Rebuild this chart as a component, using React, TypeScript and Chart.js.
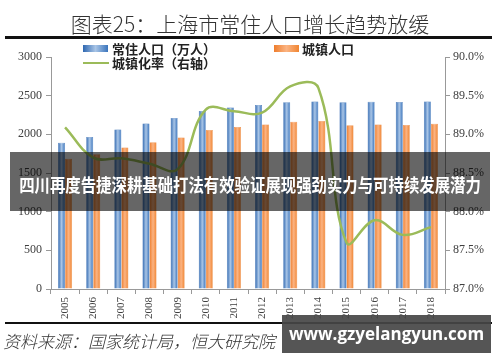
import React, { useEffect, useRef } from "react";
import { Chart, registerables } from "chart.js";

Chart.register(...registerables);

const years = ["2005","2006","2007","2008","2009","2010","2011","2012","2013","2014","2015","2016","2017","2018"];
const residentPop = [1890, 1964, 2064, 2141, 2210, 2302, 2347, 2380, 2415, 2426, 2415, 2420, 2418, 2424];
const urbanPop = [1683, 1741, 1829, 1898, 1958, 2056, 2096, 2126, 2164, 2173, 2116, 2127, 2121, 2136];
const urbanRate = [89.09, 88.70, 88.69, 88.62, 88.55, 89.32, 89.30, 89.28, 89.62, 89.60, 87.60, 87.89, 87.70, 87.80];
const leftTicks = [0, 500, 1000, 1500, 2000, 2500, 3000];
const rightTicks = [87.0, 87.5, 88.0, 88.5, 89.0, 89.5, 90.0];

const titleText = "图表25：上海市常住人口增长趋势放缓";
const legendBlue = "常住人口（万人）";
const legendOrange = "城镇人口";
const legendLine = "城镇化率（右轴）";
const sourceText = "资料来源：国家统计局，恒大研究院";
const bannerText = "四川再度告捷深耕基础打法有效验证展现强劲实力与可持续发展潜力";
const watermarkText = "www.gzyelangyun.com";

const CAT_PCT = 0.5;

function makeGradient(ctx: any, dsIndex: number, stops: string[], fallback: string) {
  const chart = ctx.chart;
  const area = chart.chartArea;
  if (!area || ctx.type !== "data") return fallback;
  const xs = chart.scales.x;
  const cat = (area.right - area.left) / years.length;
  const bw = (cat * CAT_PCT) / 2;
  const cx = xs.getPixelForValue(ctx.dataIndex) + (dsIndex === 0 ? -bw / 2 : bw / 2);
  const g = chart.ctx.createLinearGradient(cx - bw / 2, 0, cx + bw / 2, 0);
  g.addColorStop(0, stops[0]);
  g.addColorStop(0.5, stops[1]);
  g.addColorStop(1, stops[2]);
  return g;
}

export default function App() {
  const ref = useRef<HTMLCanvasElement | null>(null);
  useEffect(() => {
    if (!ref.current) return;
    const tickFont = { family: "'Liberation Serif', 'DejaVu Serif', serif", size: 12 };
    const chart = new Chart(ref.current, {
      type: "bar",
      data: {
        labels: years,
        datasets: [
          {
            type: "line",
            label: legendLine,
            data: urbanRate,
            yAxisID: "y1",
            borderColor: "#9BBB59",
            borderWidth: 2.5,
            pointRadius: 0,
            tension: 0.4,
            fill: false,
            order: 0,
          } as any,
          {
            label: legendBlue,
            data: residentPop,
            yAxisID: "y",
            backgroundColor: (c: any) => makeGradient(c, 0, ["#2E67B0", "#A9C5E6", "#3A74BC"], "#4F81BD"),
            borderColor: "#3A6FB3",
            borderWidth: 0.5,
            categoryPercentage: CAT_PCT,
            barPercentage: 1.0,
            order: 1,
          },
          {
            label: legendOrange,
            data: urbanPop,
            yAxisID: "y",
            backgroundColor: (c: any) => makeGradient(c, 1, ["#EE7D2C", "#FBB483", "#F08532"], "#F79646"),
            borderColor: "#E8843A",
            borderWidth: 0.5,
            categoryPercentage: CAT_PCT,
            barPercentage: 1.0,
            order: 1,
          },
        ],
      },
      options: {
        responsive: true,
        maintainAspectRatio: false,
        animation: false,
        layout: { padding: { top: 57, bottom: 0, left: 0, right: 0 } },
        plugins: { legend: { display: false }, tooltip: { enabled: false } },
        scales: {
          x: {
            grid: { offset: true, drawOnChartArea: false, drawTicks: true, tickLength: 5, color: "#999" },
            border: { color: "#999" },
            ticks: { minRotation: 90, maxRotation: 90, font: { ...tickFont, size: 11 }, color: "#404040", padding: 3 },
            afterFit: (s: any) => { s.height = 73; },
          },
          y: {
            position: "left",
            min: 0,
            max: 3000,
            afterBuildTicks: (s: any) => { s.ticks = leftTicks.map((v) => ({ value: v })); },
            grid: { drawOnChartArea: false, tickLength: 5, color: "#999" },
            border: { color: "#999" },
            ticks: { font: tickFont, color: "#404040", padding: 4, callback: (v: any) => String(v) },
            afterFit: (s: any) => { s.width = 51; },
          },
          y1: {
            position: "right",
            min: 87,
            max: 90,
            afterBuildTicks: (s: any) => { s.ticks = rightTicks.map((v) => ({ value: v })); },
            grid: { drawOnChartArea: false, tickLength: 5, color: "#999" },
            border: { color: "#999" },
            ticks: { font: tickFont, color: "#404040", padding: 3, callback: (v: any) => Number(v).toFixed(1) + "%" },
            afterFit: (s: any) => { s.width = 55; },
          },
        },
      },
    });
    return () => chart.destroy();
  }, []);

  const cjk = "'Noto Sans CJK SC', 'Noto Sans', sans-serif";
  const abs = (o: any): React.CSSProperties => ({ position: "absolute", ...o });

  return (
    <div style={abs({ left: 0, top: 0, width: 500, height: 362, background: "#fff", overflow: "hidden" })}>
      <div style={abs({ left: 0, top: 0, width: 500, height: 362 })}>
        <canvas ref={ref} />
      </div>
      <div style={abs({ left: 0, top: 9, width: 500, textAlign: "center", fontFamily: cjk, fontWeight: 300, fontSize: 21, lineHeight: "28px", color: "#333" })}>{titleText}</div>
      <div style={abs({ left: 5, top: 36, width: 487, height: 3, background: "#111" })} />
      <div style={abs({ left: 83, top: 45, width: 25, height: 7, background: "linear-gradient(90deg,#2E67B0,#A9C5E6,#3A74BC)" })} />
      <div style={abs({ left: 112, top: 40, fontFamily: cjk, fontWeight: 700, fontSize: 13, lineHeight: "18px", color: "#222" })}>{legendBlue}</div>
      <div style={abs({ left: 274, top: 45, width: 25, height: 7, background: "linear-gradient(90deg,#EE7D2C,#FBB483,#F08532)" })} />
      <div style={abs({ left: 302, top: 40, fontFamily: cjk, fontWeight: 700, fontSize: 13, lineHeight: "18px", color: "#222" })}>{legendOrange}</div>
      <div style={abs({ left: 83, top: 62, width: 26, height: 2, background: "#9BBB59" })} />
      <div style={abs({ left: 112, top: 54, fontFamily: cjk, fontWeight: 700, fontSize: 13, lineHeight: "18px", color: "#222" })}>{legendLine}</div>
      <div style={abs({ left: 5, top: 322, width: 487, height: 2, background: "#111" })} />
      <div style={abs({ left: 3, top: 329, fontFamily: cjk, fontStyle: "italic", fontWeight: 300, fontSize: 17, lineHeight: "24px", color: "#333", whiteSpace: "nowrap" })}>{sourceText}</div>
      <div style={abs({ left: 10, top: 152, width: 480, height: 59, background: "rgba(0,0,0,0.6)" })} />
      <div style={abs({ left: 0, top: 171, width: 500, display: "flex", justifyContent: "center" })}>
        <span style={{ display: "inline-block", flexShrink: 0, whiteSpace: "nowrap", fontFamily: cjk, fontWeight: 700, fontSize: 18, lineHeight: "26px", color: "#fff", transform: "scaleX(0.855)", transformOrigin: "center" }}>{bannerText}</span>
      </div>
      <div style={abs({ left: 282, top: 315, width: 209, height: 38, background: "rgba(70,70,70,0.92)" })} />
      <div style={abs({ left: 282, top: 322, width: 209, textAlign: "center", whiteSpace: "nowrap", fontFamily: "'Open Sans', sans-serif", fontWeight: 700, fontSize: 17, lineHeight: "24px", color: "#fff" })}>{watermarkText}</div>
    </div>
  );
}
